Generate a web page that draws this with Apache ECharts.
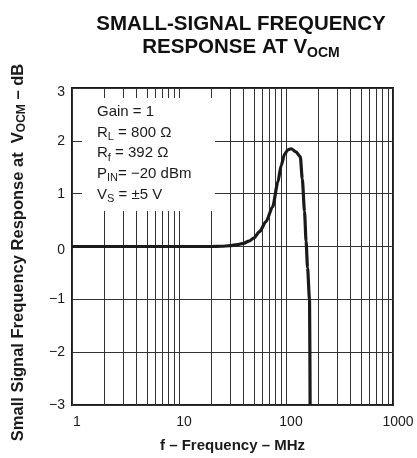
<!DOCTYPE html>
<html>
<head>
<meta charset="utf-8">
<script src="https://cdn.jsdelivr.net/npm/echarts@6/dist/echarts.min.js"></script>
<style>
  html, body { margin: 0; padding: 0; background: #fff; }
  #chart { width: 417px; height: 458px; }
</style>
</head>
<body>
<div id="chart"></div>
<script>
// Small-signal response at VOCM versus frequency (MHz, dB)
const freqMHz = [1, 2, 5, 10, 15, 20, 25, 30, 35, 40, 45, 50, 56.5, 65, 75, 84, 90, 97, 104, 112, 124, 136, 142, 149, 154, 159, 166, 168];
const gainDb  = [0, 0, 0, 0, 0, 0, 0.005, 0.015, 0.035, 0.06, 0.1, 0.16, 0.28, 0.47, 0.75, 1.22, 1.53, 1.75, 1.83, 1.85, 1.79, 1.70, 1.28, 0.66, 0.1, -0.4, -1.02, -3];

// Axis ticks
const xTickLabels = ['1', '10', '100', '1000'];
const yTickValues = [-3, -2, -1, 0, 1, 2, 3];

// Intermediate log grid lines (2..9 in each decade)
const minorGridFreqs = [2, 3, 4, 5, 6, 7, 8, 9, 20, 30, 40, 50, 60, 70, 80, 90, 200, 300, 400, 500, 600, 700, 800, 900];

// Test-condition notes
const noteLines = ['Gain = 1', 'R{s|L} = 800 Ω', 'R{s|f} = 392 Ω', 'P{s|IN}= −20 dBm', 'V{s|S} = ±5 V'];

const FONT = '"Liberation Sans", Arial, Helvetica, sans-serif';
const INK = '#1a1a1a';
const GRID_INK = '#333';

const chart = echarts.init(document.getElementById('chart'), null, { renderer: 'canvas' });

const noteGraphics = noteLines.map((t, i) => ({
  type: 'text',
  z: 20,
  x: 97,
  y: 112 + i * 20.6,
  style: {
    text: t,
    fill: INK,
    fontFamily: FONT,
    fontSize: 15,
    align: 'left',
    verticalAlign: 'middle',
    rich: {
      s: { fontFamily: FONT, fontSize: 11, fill: INK, padding: [9, 0, 0, 0] }
    }
  }
}));

const option = {
  backgroundColor: '#fff',
  animation: false,
  grid: {
    left: 72, top: 88, width: 321, height: 321,
    show: true, borderColor: INK, borderWidth: 2, backgroundColor: 'transparent'
  },
  xAxis: {
    type: 'log',
    logBase: 10,
    min: 1,
    max: 1000,
    axisLine: { show: false },
    axisTick: { show: false },
    splitLine: { show: true, lineStyle: { color: GRID_INK, width: 1 } },
    axisLabel: {
      color: INK, fontFamily: FONT, fontSize: 14, margin: 10,
      padding: [0, 0, 0, 10],
      formatter: v => {
        const k = Math.round(Math.log10(v));
        return xTickLabels[k] !== undefined ? xTickLabels[k] : '';
      }
    },
    name: 'f – Frequency – MHz',
    nameLocation: 'middle',
    nameGap: 33,
    nameTextStyle: { color: INK, fontFamily: FONT, fontSize: 15, fontWeight: 'bold' }
  },
  yAxis: {
    type: 'value',
    min: yTickValues[0],
    max: yTickValues[yTickValues.length - 1],
    interval: 1,
    axisLine: { show: false },
    axisTick: { show: false },
    splitLine: { show: true, lineStyle: { color: GRID_INK, width: 1 } },
    axisLabel: {
      color: INK, fontFamily: FONT, fontSize: 14, margin: 7,
      formatter: v => {
        const s = v < 0 ? '−' + Math.abs(v) : String(v);
        return (v === 3 || v === 0) ? '{low|' + s + '}' : s;
      },
      rich: { low: { color: INK, fontFamily: FONT, fontSize: 14, padding: [8, 0, 0, 0] } }
    },
    name: 'Small Signal Frequency Response at  V{s|OCM} – dB',
    nameLocation: 'middle',
    nameRotate: 90,
    nameGap: 44,
    nameTextStyle: {
      color: INK, fontFamily: FONT, fontSize: 16.5, fontWeight: 'bold',
      padding: [0, 12, 0, 0],
      rich: { s: { fontFamily: FONT, fontSize: 12, fontWeight: 'bold', color: INK, padding: [8, 0, 0, 0] } }
    }
  },
  series: [
    {
      // carrier for the intermediate vertical grid lines
      type: 'line',
      data: [],
      z: 1,
      silent: true,
      markLine: {
        silent: true,
        symbol: ['none', 'none'],
        label: { show: false },
        emphasis: { disabled: true },
        lineStyle: { color: GRID_INK, width: 1, type: 'solid' },
        data: minorGridFreqs.map(f => ({ xAxis: f }))
      }
    },
    {
      type: 'line',
      z: 5,
      data: freqMHz.map((f, i) => [f, gainDb[i]]),
      showSymbol: false,
      smooth: 0.25,
      smoothMonotone: 'x',
      lineStyle: { color: INK, width: 3.2 }
    }
  ],
  graphic: [
    {
      type: 'text', z: 20, x: 241, y: 24,
      style: {
        text: 'SMALL-SIGNAL FREQUENCY', fill: '#111', fontFamily: FONT, fontSize: 20.5, fontWeight: 'bold',
        align: 'center', verticalAlign: 'middle'
      }
    },
    {
      type: 'text', z: 20, x: 241, y: 47,
      style: {
        text: 'RESPONSE AT V{s|OCM}', fill: '#111', fontFamily: FONT, fontSize: 20.5, fontWeight: 'bold',
        align: 'center', verticalAlign: 'middle',
        rich: { s: { fontFamily: FONT, fontSize: 14, fontWeight: 'bold', fill: '#111', padding: [12, 0, 0, 0] } }
      }
    },
    {
      // white panel for the test conditions
      type: 'rect', z: 15,
      shape: { x: 82, y: 98, width: 133, height: 113 },
      style: { fill: '#fff' }
    }
  ].concat(noteGraphics)
};

chart.setOption(option);
</script>
</body>
</html>
